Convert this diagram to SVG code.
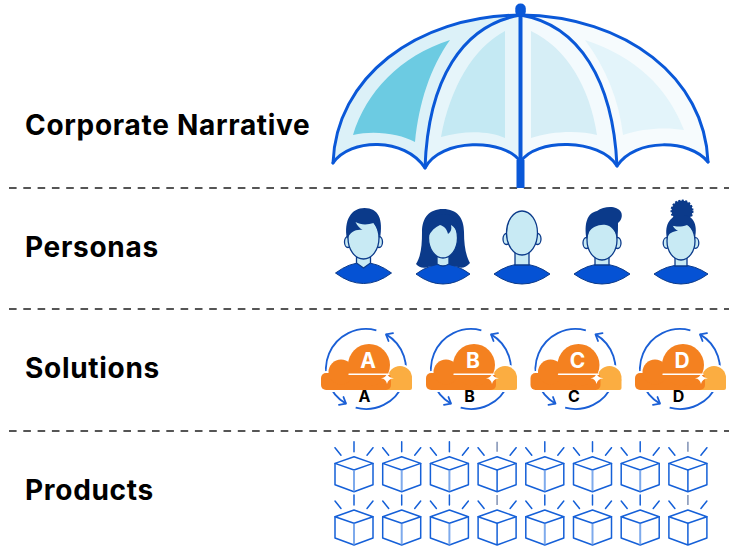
<svg xmlns="http://www.w3.org/2000/svg" width="731" height="551" viewBox="0 0 731 551">
<style>
.label{font-family:Inter,"Liberation Sans",sans-serif;font-weight:700;font-size:28px;letter-spacing:0.7px;fill:#000}
.sep{stroke:#555;stroke-width:2;fill:none;stroke-dasharray:7.6 6.7}
.rib{fill:none;stroke:#0a58d8;stroke-width:3;stroke-linecap:round;stroke-linejoin:round}
.face{fill:#c8eaf4;stroke:#0b3a8a;stroke-width:1.3}
.hair{fill:#0b3a8a}
.body{fill:#0552d4;stroke:#0b3a8a;stroke-width:1}
.orbit{fill:none;stroke:#1a5fd6;stroke-width:1.8;marker-end:url(#chev)}
.cl-letter{font-family:Inter,"Liberation Sans",sans-serif;font-weight:700;font-size:21px;fill:#fff;text-anchor:middle}
.sub-letter{font-family:Inter,"Liberation Sans",sans-serif;font-weight:700;font-size:16px;fill:#000;text-anchor:middle}
.edge{fill:none;stroke:#1560d8;stroke-width:1.5;stroke-linejoin:round;stroke-linecap:round}
</style>
<defs>
  <marker id="chev" markerUnits="userSpaceOnUse" viewBox="-7 -6 9 12" refX="0" refY="0" markerWidth="9" markerHeight="12" orient="auto" overflow="visible">
    <path d="M-5.5,-4.5 L0,0 L-5.5,4.5" fill="none" stroke="#1a5fd6" stroke-width="1.8" stroke-linecap="round" stroke-linejoin="round"/>
  </marker>
  <!-- cloud with two circling arrows, centred on the orbit centre -->
  <g id="cloud">
    <path class="orbit" d="M-10.35,38.64 A40,40 0 0 0 20,-34.64"/>
    <path class="orbit" d="M10.35,-38.64 A40,40 0 0 0 -20,34.64"/>
    <g fill="#fff" stroke="#fff" stroke-width="4" stroke-linejoin="round">
      <circle cx="34" cy="9" r="12"/>
      <rect x="18" y="9" width="28" height="12" rx="2"/>
      <rect x="-45" y="4" width="70" height="17" rx="5"/>
      <circle cx="-25" cy="3" r="12.5"/>
      <circle cx="3" cy="-4" r="21"/>
    </g>
    <g fill="#fbad41">
      <circle cx="34" cy="9" r="12"/>
      <rect x="18" y="9" width="28" height="12" rx="2"/>
    </g>
    <g fill="#f48120">
      <rect x="-45" y="4" width="70" height="17" rx="5"/>
      <circle cx="-25" cy="3" r="12.5"/>
      <circle cx="3" cy="-4" r="21"/>
    </g>
    <path d="M-17,5.3 L23,5.3" stroke="#fff" stroke-width="1.4" stroke-linecap="round"/>
    <path d="M15,9.3 Q20,8.6 21,4.5 Q22,8.6 28,9.3 Q22,10 21,15 Q20,10 15,9.3 Z" fill="#fff"/>
  </g>
  <!-- product cube with light rays -->
  <g id="cube">
    <path d="M0,-15V-5 M-19,-9L-13,-1.5 M19,-9L13,-1.5" class="edge"/>
    <path d="M0,0 L19,6.7 L0,13.3 L-19,6.7Z" fill="#c3eaf5" class="edge"/>
    <path d="M-19,6.7 V28 L0,35 L19,28 V6.7" class="edge"/>
    <path d="M0,13.8 V34.5" stroke="#7eaaec" stroke-width="2"/>
  </g>
  <g id="cube-b">
    <path d="M0,-15V-5" stroke="#8797b8" stroke-width="1.6"/>
    <path d="M-19,-9L-13,-1.5 M19,-9L13,-1.5" class="edge"/>
    <path d="M0,0 L19,6.7 L0,13.3 L-19,6.7Z" fill="#c3eaf5" class="edge"/>
    <path d="M-19,6.7 V28 L0,35 L19,28 V6.7 M0,13.3 V35" class="edge"/>
  </g>
</defs>

<rect width="731" height="551" fill="#fff"/>

<!-- layer labels -->
<g id="labels">
  <text class="label" x="25" y="134.5">Corporate Narrative</text>
  <text class="label" x="25" y="256.5">Personas</text>
  <text class="label" x="25" y="378">Solutions</text>
  <text class="label" x="25" y="500">Products</text>
</g>

<!-- dashed separators between layers -->
<g id="separators">
  <line class="sep" x1="9" y1="188" x2="729" y2="188"/>
  <line class="sep" x1="9" y1="309" x2="729" y2="309"/>
  <line class="sep" x1="9" y1="431" x2="729" y2="431"/>
</g>

<!-- umbrella -->
<g id="umbrella">
  <path d="M333,163 C336,78 415,16 520.5,15 C462,25 428,80 425,168 C405,138 350,140 333,163 Z" fill="#dcf1f8"/>
  <path d="M520.5,15 C462,25 428,80 425,168 C440,138 505,138 520.5,162 Z" fill="#e6f5fa"/>
  <path d="M520.5,15 L520.5,162 C535,138 600,138 617,166 C613,80 579,25 520.5,15 Z" fill="#f3fafd"/>
  <path d="M520.5,15 C579,25 613,80 617,166 C635,138 690,140 708,162 C705,78 626,16 520.5,15 Z" fill="#f6fbfd"/>
  <path d="M450,40 C400,56 366,92 353,135 C375,130 400,134 415,142 C419,103 430,68 450,40 Z" fill="#6ccbe2"/>
  <path d="M505,31 C473,48 450,88 441,137 C465,130 490,131 505,138 Z" fill="#c4e9f3"/>
  <path d="M531,31 L531,138 C550,131 580,130 597,135 C590,88 567,48 531,31 Z" fill="#d6eef6"/>
  <path d="M585,40 C606,68 619,100 623,135 C642,128 667,127 684,130 C668,88 635,56 585,40 Z" fill="#e3f4fa"/>
  <path class="rib" d="M333,163 C336,78 415,16 520.5,15 C626,16 705,78 708,162"/>
  <path class="rib" d="M520.5,15 C462,25 428,80 425,168"/>
  <path class="rib" d="M520.5,15 C579,25 613,80 617,166"/>
  <path class="rib" d="M333,163 C350,138 405,137 425,168 C440,138 505,138 520.5,162 C535,138 600,138 617,166 C635,138 690,139 708,162"/>
  <line x1="520.5" y1="10" x2="520.5" y2="165" stroke="#0a58d8" stroke-width="4"/>
  <rect x="516.5" y="160" width="8" height="28" fill="#0a58d8"/>
  <rect x="515.3" y="3.5" width="10.5" height="13" rx="5" fill="#0a58d8"/>
</g>

<!-- personas -->
<g id="persona-1" transform="translate(363.5,0)">
  <path class="body" d="M-28,273 Q0,252 28,273 Q0,294 -28,273 Z"/>
  <path class="face" d="M-7,249 V263 L0,268 L7,263 V249 Z"/>
  <ellipse class="face" cx="-15.5" cy="242" rx="3.5" ry="5.5"/>
  <ellipse class="face" cx="15.5" cy="242" rx="3.5" ry="5.5"/>
  <ellipse class="face" cx="0" cy="238" rx="15.5" ry="21"/>
  <path class="hair" d="M-16.5,239 C-20,220 -12,208 1,208 C15,208 20,219 16.5,239 C15,231 13,227 10,223 C4,225 -3,225 -8,222 C-6,226 -4,228 -1,230 C-8,229 -13,232 -16.5,239 Z"/>
</g>
<g id="persona-2" transform="translate(443,0)">
  <path class="hair" d="M0,209 C14,209 21,218 21,232 C21,246 23,256 27,263 C23,268 17,269 13,266 L-13,266 C-18,269 -24,268 -27,264 C-22,256 -21,246 -21,232 C-21,218 -14,209 0,209 Z"/>
  <path class="body" d="M-27,274 Q0,254 27,274 Q0,294 -27,274 Z"/>
  <path class="face" d="M-6,250 V264 Q0,268 6,264 V250 Z"/>
  <ellipse class="face" cx="0" cy="238" rx="14.5" ry="20"/>
  <path class="hair" d="M-15,237 C-16,222 -8,214 1,214 C10,214 16,221 15.5,234 C13,229 11,227 8,225 C9,229 8,232 5,234 C4,229 1,226 -3,225 C-8,227 -12,231 -15,237 Z"/>
</g>
<g id="persona-3" transform="translate(522,0)">
  <path class="body" d="M-28,274 Q0,254 28,274 Q0,294 -28,274 Z"/>
  <path class="face" d="M-7,248 V265 H7 V248 Z"/>
  <ellipse class="face" cx="-15.5" cy="239" rx="3.5" ry="5.5"/>
  <ellipse class="face" cx="15.5" cy="239" rx="3.5" ry="5.5"/>
  <ellipse class="face" cx="0" cy="233" rx="15.5" ry="22"/>
</g>
<g id="persona-4" transform="translate(602,0)">
  <path class="body" d="M-28,274 Q0,254 28,274 Q0,294 -28,274 Z"/>
  <path class="face" d="M-7,252 V265 H7 V252 Z"/>
  <ellipse class="face" cx="-15.5" cy="243" rx="3.5" ry="5.5"/>
  <ellipse class="face" cx="15.5" cy="243" rx="3.5" ry="5.5"/>
  <ellipse class="face" cx="0" cy="240" rx="15" ry="20"/>
  <path class="hair" d="M-15.5,239 C-18,224 -15,213 -5,211 C2,206 15,205 19,212 C21,216 19,221 16,223 C16,228 16,233 15.5,238 C13,230 9,226 4,225 C-3,224 -10,227 -13,232 Z"/>
</g>
<g id="persona-5" transform="translate(681,0)">
  <circle class="hair" cx="1" cy="211" r="10.5" stroke="#0b3a8a" stroke-width="2" stroke-dasharray="2 1.5"/>
  <path class="body" d="M-27,274 Q0,256 27,274 Q0,294 -27,274 Z"/>
  <path class="face" d="M-6,254 V266 H6 V254 Z"/>
  <ellipse class="face" cx="-14.5" cy="243" rx="3.3" ry="5.3"/>
  <ellipse class="face" cx="14.5" cy="243" rx="3.3" ry="5.3"/>
  <ellipse class="face" cx="0" cy="241" rx="14" ry="19"/>
  <path class="hair" d="M-14,238 C-17,224 -10,215 1,215 C12,215 17,224 14,238 C13,231 10,227 6,225 C0,227 -5,227 -9,225 C-7,228 -5,230 -3,231 C-8,231 -12,233 -14,238 Z"/>
</g>

<!-- solutions -->
<g id="solution-a">
  <use href="#cloud" transform="translate(366,369)"/>
  <text class="cl-letter" x="368" y="368">A</text>
  <text class="sub-letter" x="364.5" y="402">A</text>
</g>
<g id="solution-b">
  <use href="#cloud" transform="translate(471,369)"/>
  <text class="cl-letter" x="473" y="368">B</text>
  <text class="sub-letter" x="469.5" y="402">B</text>
</g>
<g id="solution-c">
  <use href="#cloud" transform="translate(575.5,369)"/>
  <text class="cl-letter" x="577.5" y="368">C</text>
  <text class="sub-letter" x="574" y="402">C</text>
</g>
<g id="solution-d">
  <use href="#cloud" transform="translate(680,369)"/>
  <text class="cl-letter" x="682" y="368">D</text>
  <text class="sub-letter" x="678.5" y="402">D</text>
</g>

<!-- products: two rows of eight cubes -->
<g id="products">
  <use id="product-1" href="#cube" x="354" y="456.7"/>
  <use id="product-2" href="#cube" x="401.7" y="456.7"/>
  <use id="product-3" href="#cube" x="449.4" y="456.7"/>
  <use id="product-4" href="#cube-b" x="497.1" y="456.7"/>
  <use id="product-5" href="#cube" x="544.8" y="456.7"/>
  <use id="product-6" href="#cube" x="592.5" y="456.7"/>
  <use id="product-7" href="#cube" x="640.2" y="456.7"/>
  <use id="product-8" href="#cube-b" x="687.9" y="456.7"/>
  <use id="product-9" href="#cube" x="354" y="510"/>
  <use id="product-10" href="#cube" x="401.7" y="510"/>
  <use id="product-11" href="#cube" x="449.4" y="510"/>
  <use id="product-12" href="#cube-b" x="497.1" y="510"/>
  <use id="product-13" href="#cube" x="544.8" y="510"/>
  <use id="product-14" href="#cube" x="592.5" y="510"/>
  <use id="product-15" href="#cube" x="640.2" y="510"/>
  <use id="product-16" href="#cube-b" x="687.9" y="510"/>
</g>
</svg>
